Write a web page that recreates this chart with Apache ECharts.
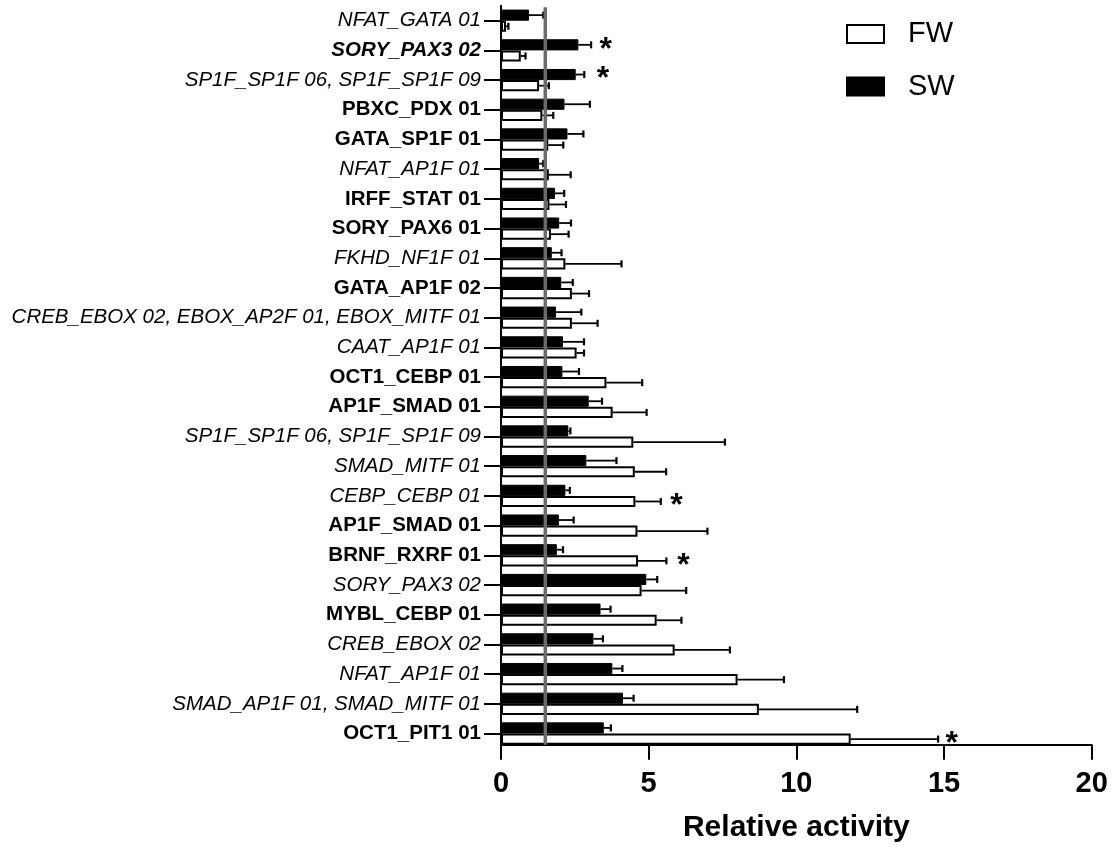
<!DOCTYPE html>
<html>
<head>
<meta charset="utf-8">
<script src="https://cdn.jsdelivr.net/npm/echarts@6/dist/echarts.min.js"></script>
<style>
html,body{margin:0;padding:0;background:#fff;}
#chart{width:1115px;height:848px;}
</style>
</head>
<body>
<div id="chart"></div>
<script>
// Categories, top to bottom
const categories = [
  'NFAT_GATA 01', 'SORY_PAX3 02', 'SP1F_SP1F 06, SP1F_SP1F 09', 'PBXC_PDX 01', 'GATA_SP1F 01',
  'NFAT_AP1F 01', 'IRFF_STAT 01', 'SORY_PAX6 01', 'FKHD_NF1F 01', 'GATA_AP1F 02',
  'CREB_EBOX 02, EBOX_AP2F 01, EBOX_MITF 01', 'CAAT_AP1F 01', 'OCT1_CEBP 01', 'AP1F_SMAD 01',
  'SP1F_SP1F 06, SP1F_SP1F 09', 'SMAD_MITF 01', 'CEBP_CEBP 01', 'AP1F_SMAD 01', 'BRNF_RXRF 01',
  'SORY_PAX3 02', 'MYBL_CEBP 01', 'CREB_EBOX 02', 'NFAT_AP1F 01', 'SMAD_AP1F 01, SMAD_MITF 01',
  'OCT1_PIT1 01'
];
// label style: i = italic, b = bold, bi = bold italic
const labelStyles = ['i','bi','i','b','b','i','b','b','i','b','i','i','b','b','i','i','i','b','b','i','b','i','i','i','b'];

const fwMean = [0.17, 0.67, 1.29, 1.40, 1.60, 1.62, 1.64, 1.69, 2.18, 2.40, 2.40, 2.56, 3.57, 3.78, 4.48, 4.53, 4.55, 4.62, 4.64, 4.76, 5.27, 5.88, 8.01, 8.73, 11.84];
const fwErr  = [0.08, 0.16, 0.33, 0.37, 0.51, 0.74, 0.56, 0.60, 1.90, 0.58, 0.87, 0.25, 1.21, 1.15, 3.10, 1.06, 0.86, 2.37, 0.96, 1.51, 0.84, 1.87, 1.57, 3.33, 2.96];
const swMean = [0.95, 2.62, 2.53, 2.15, 2.25, 1.29, 1.83, 1.97, 1.72, 2.04, 1.86, 2.10, 2.08, 2.97, 2.28, 2.89, 2.18, 1.96, 1.89, 4.92, 3.37, 3.13, 3.77, 4.13, 3.48];
const swErr  = [0.48, 0.43, 0.29, 0.86, 0.54, 0.14, 0.31, 0.40, 0.33, 0.39, 0.86, 0.71, 0.56, 0.45, 0.07, 1.02, 0.15, 0.50, 0.21, 0.37, 0.34, 0.32, 0.34, 0.36, 0.24];

// significance marks: [category index, x position of asterisk]
const sigSW = [[1, 3.55], [2, 3.45]];
const sigFW = [[16, 5.94], [18, 6.18], [24, 15.26]];

const refLine = 1.5;
const xTicks = [0, 5, 10, 15, 20];

const FONT = '"Liberation Sans", Arial, Helvetica, sans-serif';
const GAP = 0.25; // bar category gap fraction

function barHalf(api) {
  const band = api.size([0, 1])[1];
  return band * (1 - GAP) / 2;
}

function errRender(sign) {
  return function (params, api) {
    const i = api.value(0);
    const m = api.value(1);
    const e = api.value(2);
    const bh = barHalf(api);
    const c0 = api.coord([m, i]);
    const c1 = api.coord([m + e, i]);
    const y = c0[1] + sign * bh / 2;
    return {
      type: 'group',
      children: [
        { type: 'line', shape: { x1: c0[0], y1: y, x2: c1[0], y2: y }, style: { stroke: '#000', lineWidth: 1.8 } },
        { type: 'line', shape: { x1: c1[0], y1: y - 3.5, x2: c1[0], y2: y + 3.5 }, style: { stroke: '#000', lineWidth: 2.2 } }
      ]
    };
  };
}

function starRender(sign) {
  return function (params, api) {
    const i = api.value(0);
    const x = api.value(1);
    const bh = barHalf(api);
    const c = api.coord([x, i]);
    return {
      type: 'text',
      x: c[0],
      y: c[1] + sign * bh / 2 + 5,
      style: { text: '*', fill: '#000', font: 'bold 32px ' + FONT, textAlign: 'center', textVerticalAlign: 'middle' }
    };
  };
}

const chart = echarts.init(document.getElementById('chart'), null, { renderer: 'canvas' });

const option = {
  animation: false,
  backgroundColor: '#fff',
  grid: { left: 501, right: 23.3, top: 5.85, bottom: 99.65, containLabel: false, outerBoundsMode: 'none' },
  legend: {
    orient: 'vertical',
    left: 846,
    top: 18,
    padding: 0,
    icon: 'rect',
    itemWidth: 37,
    itemHeight: 18,
    itemGap: 20.5,
    data: ['FW', 'SW'],
    textStyle: { fontSize: 29, fontFamily: FONT, color: '#000', lineHeight: 30, padding: [2, 0, 0, 19] }
  },
  xAxis: {
    type: 'value',
    min: 0, max: 20, interval: 5,
    offset: -3.65,
    name: 'Relative activity',
    nameLocation: 'middle',
    nameGap: 68,
    nameTextStyle: { fontSize: 30, fontWeight: 'bold', fontFamily: FONT, color: '#000' },
    axisLine: { show: true, lineStyle: { color: '#000', width: 2 } },
    axisTick: { show: true, length: 15, lineStyle: { color: '#000', width: 2 } },
    axisLabel: {
      margin: 25, fontSize: 29, fontWeight: 'bold', fontFamily: FONT, color: '#000',
      formatter: function (v) { return xTicks.indexOf(v) >= 0 ? String(v) : ''; }
    },
    splitLine: { show: false }
  },
  yAxis: {
    type: 'category',
    inverse: true,
    data: categories,
    axisLine: { show: true, lineStyle: { color: '#000', width: 2 } },
    axisTick: { show: true, alignWithLabel: true, interval: 0, length: 17, lineStyle: { color: '#000', width: 2 } },
    axisLabel: {
      interval: 0, margin: 20, color: '#000',
      formatter: function (v, idx) { return '{' + labelStyles[idx] + '|' + v + '}'; },
      rich: {
        i: { fontSize: 20.5, fontFamily: FONT, fontStyle: 'italic', color: '#000' },
        b: { fontSize: 20.5, fontFamily: FONT, fontWeight: 'bold', color: '#000' },
        bi: { fontSize: 20.5, fontFamily: FONT, fontWeight: 'bold', fontStyle: 'italic', color: '#000' }
      }
    },
    splitLine: { show: false }
  },
  series: [
    {
      name: 'SW', type: 'bar', data: swMean,
      barGap: '0%', barCategoryGap: (GAP * 100) + '%',
      itemStyle: { color: '#000', borderColor: '#000', borderWidth: 1 },
      z: 2
    },
    {
      name: 'FW', type: 'bar', data: fwMean,
      barGap: '0%', barCategoryGap: (GAP * 100) + '%',
      itemStyle: { color: '#fff', borderColor: '#000', borderWidth: 2 },
      z: 2
    },
    {
      type: 'custom', name: 'SW err', z: 4,
      data: swMean.map(function (m, i) { return [i, m, swErr[i]]; }),
      encode: { x: 1, y: 0 },
      renderItem: errRender(-1)
    },
    {
      type: 'custom', name: 'FW err', z: 4,
      data: fwMean.map(function (m, i) { return [i, m, fwErr[i]]; }),
      encode: { x: 1, y: 0 },
      renderItem: errRender(1)
    },
    {
      type: 'custom', name: 'ref', z: 5,
      data: [[refLine]],
      encode: { x: 0 },
      renderItem: function (params, api) {
        const cs = params.coordSys;
        const x = api.coord([api.value(0), 0])[0];
        return {
          type: 'line',
          shape: { x1: x, y1: cs.y + 1.5, x2: x, y2: cs.y + cs.height - 3.65 },
          style: { stroke: '#6b6b6b', lineWidth: 3.5 }
        };
      }
    },
    {
      type: 'custom', name: 'sigSW', z: 6,
      data: sigSW, encode: { x: 1, y: 0 },
      renderItem: starRender(-1)
    },
    {
      type: 'custom', name: 'sigFW', z: 6,
      data: sigFW, encode: { x: 1, y: 0 },
      renderItem: starRender(1)
    }
  ]
};
chart.setOption(option);
</script>
</body>
</html>
